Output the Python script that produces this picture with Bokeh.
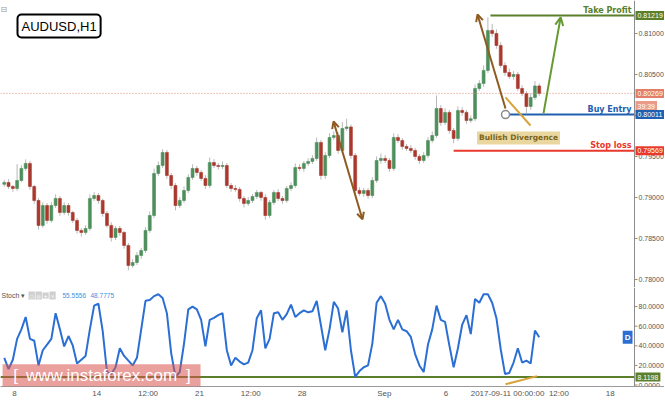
from bokeh.plotting import figure
from bokeh.layouts import column
from bokeh.models import (ColumnDataSource, Range1d, LinearAxis, FixedTicker,
                          Label, Span, Arrow, OpenHead, BoxAnnotation)
from bokeh.core.properties import value
from bokeh.embed import file_html
from bokeh.resources import INLINE

# ---------------- data ----------------
# x = hourly-bar index (weekends skipped), 0 = 2017-08-08 00:00; one candle per 5 hourly bars
candle_t = list(range(-12, 614, 5))
first_open = 0.79160
closes = [
    0.79183, 0.79134, 0.79110, 0.79207, 0.79354, 0.79415, 0.79134, 0.78963, 0.78659, 0.78902,
    0.78720, 0.78902, 0.78988, 0.78817, 0.78902, 0.78817, 0.78720, 0.78598, 0.78573, 0.78622,
    0.78988, 0.79024, 0.78963, 0.78805, 0.78659, 0.78512, 0.78622, 0.78573, 0.78415, 0.78171,
    0.78207, 0.78293, 0.78354, 0.78598, 0.78780, 0.79293, 0.79390, 0.79549, 0.79268, 0.79146,
    0.78902, 0.78963, 0.79085, 0.79244, 0.79354, 0.79305, 0.79232, 0.79146, 0.79427, 0.79390,
    0.79378, 0.79390, 0.79146, 0.79110, 0.79098, 0.78988, 0.78927, 0.78963, 0.79012, 0.79061,
    0.79000, 0.78780, 0.78939, 0.79061, 0.78988, 0.78963, 0.79110, 0.79146, 0.79366, 0.79354,
    0.79415, 0.79439, 0.79476, 0.79671, 0.79268, 0.79512, 0.79732, 0.79756, 0.79573, 0.79841,
    0.79860, 0.79512, 0.79085, 0.79049, 0.79085, 0.79024, 0.79207, 0.79451, 0.79476, 0.79451,
    0.79354, 0.79732, 0.79695, 0.79622, 0.79598, 0.79573, 0.79500, 0.79451, 0.79512, 0.79695,
    0.79756, 0.80085, 0.79915, 0.80037, 0.79817, 0.79720, 0.80061, 0.80037, 0.79939, 0.79960,
    0.80329, 0.80390, 0.80549, 0.81037, 0.81000, 0.80854, 0.80610, 0.80524, 0.80476, 0.80500,
    0.80329, 0.80268, 0.80110, 0.80220, 0.80360, 0.80269,
]
wick_up_pips = [
    3, 4, 2, 20, 4, 5, 3, 2, 3, 4,
    3, 4, 5, 3, 4, 3, 2, 3, 3, 4,
    5, 4, 3, 2, 3, 4, 3, 3, 2, 3,
    4, 4, 3, 4, 5, 6, 5, 4, 3, 3,
    3, 4, 5, 4, 5, 3, 3, 4, 6, 4,
    3, 5, 3, 3, 4, 3, 3, 4, 3, 3,
    2, 4, 3, 3, 4, 3, 3, 4, 5, 4,
    3, 4, 4, 6, 3, 4, 5, 5, 4, 8,
    10, 3, 3, 4, 3, 3, 4, 5, 6, 4,
    3, 5, 4, 3, 3, 4, 3, 3, 4, 4,
    5, 16, 4, 5, 3, 3, 5, 4, 3, 4,
    5, 4, 6, 16, 8, 5, 4, 4, 5, 4,
    3, 4, 3, 5, 6, 3,
]
wick_dn_pips = [
    3, 3, 4, 3, 2, 3, 4, 4, 5, 3,
    4, 3, 3, 4, 3, 4, 3, 4, 5, 3,
    3, 3, 4, 4, 3, 5, 3, 4, 4, 6,
    3, 3, 4, 3, 3, 3, 3, 3, 4, 4,
    6, 3, 3, 3, 3, 4, 3, 4, 3, 3,
    4, 3, 3, 4, 3, 4, 5, 3, 3, 3,
    4, 5, 3, 3, 3, 4, 3, 3, 3, 3,
    4, 3, 3, 3, 5, 4, 3, 3, 4, 3,
    3, 4, 4, 3, 4, 4, 3, 3, 4, 3,
    4, 3, 3, 4, 3, 3, 4, 4, 3, 3,
    3, 3, 4, 3, 4, 6, 3, 4, 4, 3,
    3, 3, 4, 3, 4, 4, 3, 4, 3, 4,
    3, 3, 8, 4, 3, 3,
]
stoch_k = [
    27.8, 16.2, 25.8, 47.1, 56.8, 69.4, 47.1, 45.2, 20.0, 35.5,
    41.3, 47.1, 73.3, 56.8, 39.4, 50.0, 40.4, 22.0, 25.8, 29.7,
    56.8, 81.0, 82.9, 54.9, 13.3, 11.3, 18.1, 37.5, 29.7, 24.9,
    20.0, 27.8, 56.8, 85.9, 86.8, 90.7, 92.6, 88.7, 73.3, 32.6,
    8.4, 13.3, 42.3, 77.2, 80.0, 77.2, 66.5, 39.4, 66.5, 68.5,
    71.3, 73.3, 35.5, 20.0, 27.8, 23.9, 21.0, 22.9, 35.5, 68.2,
    76.2, 37.5, 47.1, 73.3, 74.2, 66.5, 72.3, 82.0, 69.4, 73.3,
    76.2, 74.2, 75.2, 85.9, 60.7, 35.5, 56.8, 84.9, 78.0, 53.9,
    76.2, 35.5, 8.4, 14.2, 18.1, 20.0, 42.3, 83.9, 90.7, 82.9,
    66.5, 56.8, 66.5, 56.8, 54.9, 49.1, 31.6, 20.0, 13.3, 41.3,
    56.8, 81.0, 66.5, 64.5, 40.4, 18.1, 37.5, 61.7, 71.3, 52.0,
    87.8, 83.9, 92.6, 92.6, 83.9, 68.2, 36.5, 11.3, 12.3, 22.9,
    37.5, 22.9, 24.9, 22.0, 55.6, 48.8,
]

time_ticks = [0, 96, 156, 216, 276, 336, 432, 504, 576, 636, 696]
time_labels = ["8", "14", "12:00", "21", "12:00", "28", "Sep", "6",
               "2017-09-11 00:00:00", "12:00", "18"]
price_ticks = [0.780, 0.785, 0.790, 0.795, 0.800, 0.805, 0.810]
stoch_ticks = [0, 20, 40, 60, 80]

take_profit = 0.81219
buy_entry = 0.80011
stop_loss = 0.79569
last_price = 0.80269
stoch_level = 8.1198
stoch_k_last = "55.5556"
stoch_d_last = "48.7775"
countdown = "39:39"
cursor_time = 576
level_starts = [556, 576, 513]

# ---------------- derived candle geometry ----------------
opens = [first_open] + closes[:-1]
tops = [max(o, c) for o, c in zip(opens, closes)]
bots = [min(o, c) for o, c in zip(opens, closes)]
highs = [t + u * 1e-4 for t, u in zip(tops, wick_up_pips)]
lows = [b - d * 1e-4 for b, d in zip(bots, wick_dn_pips)]
UP, DN = "#4e8f5c", "#a9382d"
colors = [UP if c >= o else DN for o, c in zip(opens, closes)]

W = 664
AX_PX = 634                      # pixel column where the price scale starts
T0, T_AX = -16.4, 724.3          # chart area, price scale starts at T_AX
S_PX = (T_AX - T0) / AX_PX       # hours per pixel
T1 = T0 + W * S_PX               # frame also covers the price-scale column
TICK = 3 * S_PX
P0, P1 = 0.77902, 0.81402
S0, S1 = -1.5, 99.5

TP_C, BE_C, SL_C = "#5b7f2a", "#2160b0", "#e8392c"
AX_C, LAB_C = "#8c8c8c", "#555555"
FONT = "Liberation Sans"
BOLD = "DejaVu Sans"

xr = Range1d(T0, T1)


def price_scale(fig, ticks, fmt):
    n = len(ticks)
    fig.add_layout(Span(location=T_AX, dimension="height", line_color=AX_C, line_width=1))
    fig.segment(x0=[T_AX] * n, x1=[T_AX + TICK] * n, y0=ticks, y1=ticks, line_color=AX_C)
    fig.text(x=[T_AX] * n, y=ticks, text=[fmt % v for v in ticks], x_offset=4,
             text_baseline="middle", text_align="left", text_font_size="7px",
             text_color=LAB_C, text_font=value(FONT))


def price_box(fig, y, text, bg, y_offset=0):
    fig.add_layout(Label(x=T_AX, y=y, x_offset=1, y_offset=y_offset, text=text,
                         text_align="left", text_baseline="middle", text_color="white",
                         text_font=FONT, text_font_size="7px", background_fill_color=bg,
                         padding=2))


# ---------------- price panel ----------------
p1 = figure(width=W, height=287, x_range=xr, y_range=Range1d(P0, P1),
            x_axis_location=None, y_axis_location=None,
            output_backend="svg", toolbar_location=None,
            min_border_left=0, min_border_right=0, min_border_top=0, min_border_bottom=0)
p1.outline_line_color = None
p1.grid.visible = False

src = ColumnDataSource(dict(t=candle_t, h=highs, l=lows, top=tops, bot=bots, color=colors))
p1.segment(x0="t", y0="l", x1="t", y1="h", source=src, line_color="#b8b8b8", line_width=1)
p1.vbar(x="t", width=3.4, top="top", bottom="bot", source=src,
        fill_color="color", line_color="color", line_width=0.6)

sep = LinearAxis(ticker=FixedTicker(ticks=[]), axis_line_color="#9a9a9a",
                 major_tick_out=0, major_tick_in=0, minor_tick_out=0, minor_tick_in=0,
                 major_label_text_font_size="0px", major_label_standoff=0,
                 axis_label_standoff=0)
p1.add_layout(sep, "below")

price_scale(p1, price_ticks, "%.5f")

p1.segment(x0=[T0], x1=[T_AX], y0=[last_price], y1=[last_price],
           line_color="#e08a7a", line_dash="1 2", line_width=1)
p1.segment(x0=level_starts, y0=[take_profit, buy_entry, stop_loss],
           x1=[T_AX] * 3, y1=[take_profit, buy_entry, stop_loss],
           line_color=[TP_C, BE_C, SL_C], line_width=2)

# analysis drawings
BROWN, TAN, GREEN = "#8d5b21", "#d7a43b", "#66992f"
p1.add_layout(Arrow(x_start=372.7, y_start=0.79927, x_end=406.5, y_end=0.78732,
                    start=OpenHead(size=7, line_color=BROWN, line_width=2),
                    end=OpenHead(size=7, line_color=BROWN, line_width=2),
                    line_color=BROWN, line_width=2))
p1.add_layout(Arrow(x_start=573.6, y_start=0.80086, x_end=540.9, y_end=0.81232,
                    end=OpenHead(size=7, line_color=BROWN, line_width=2),
                    line_color=BROWN, line_width=2))
p1.add_layout(Arrow(x_start=573.6, y_start=0.80220, x_end=602.8, y_end=0.79878, end=None,
                    line_color=TAN, line_width=2))
p1.add_layout(Arrow(x_start=618, y_start=0.80025, x_end=638, y_end=0.81196,
                    end=OpenHead(size=8, line_color=GREEN, line_width=2),
                    line_color=GREEN, line_width=2))
p1.scatter(x=[cursor_time - 2.4], y=[buy_entry], marker="circle", size=8,
           fill_color="white", line_color="#8a8a8a", line_width=1.5)


def level_text(fig, y, text, color):
    fig.add_layout(Label(x=T_AX, y=y, x_offset=-3, y_offset=1, text=text, text_align="right",
                         text_baseline="bottom", text_color=color, text_font=BOLD,
                         text_font_style="bold", text_font_size="8px"))


level_text(p1, take_profit, "Take Profit", TP_C)
level_text(p1, buy_entry, "Buy Entry", BE_C)
level_text(p1, stop_loss, "Stop loss", SL_C)

p1.add_layout(Label(x=588.8, y=0.79726, text="Bullish Divergence", text_align="center",
                    text_baseline="middle", text_color="#7a6420", text_font=BOLD,
                    text_font_style="bold", text_font_size="7.5px",
                    background_fill_color="#e9d79f", padding=2))

price_box(p1, take_profit, "%.5f" % take_profit, TP_C)
price_box(p1, last_price, "%.5f" % last_price, "#e27d69")
price_box(p1, last_price, countdown, "#e99a88", y_offset=-13)
price_box(p1, buy_entry, "%.5f" % buy_entry, BE_C)
price_box(p1, stop_loss, "%.5f" % stop_loss, SL_C)

p1.add_layout(Label(x=T0, y=P1, x_offset=17, y_offset=-14, text="AUDUSD,H1", text_align="left",
                    text_baseline="top", text_color="black", text_font=FONT, text_font_size="13px",
                    background_fill_color="white", border_line_color="black", border_line_width=2,
                    padding=4, border_radius=4))
p1.add_layout(Label(x=T0, y=P1, x_offset=0, y_offset=-4, text="⊟", text_align="left",
                    text_baseline="top", text_color="#999999", text_font=BOLD, text_font_size="8px"))

# ---------------- stochastic panel ----------------
p2 = figure(width=W, height=113, x_range=xr, y_range=Range1d(S0, S1),
            x_axis_location=None, y_axis_location=None,
            output_backend="svg", toolbar_location=None,
            min_border_left=0, min_border_right=0, min_border_top=0, min_border_bottom=0)
p2.outline_line_color = None
p2.grid.visible = False

p2.segment(x0=[T0], x1=[T_AX], y0=[stoch_level], y1=[stoch_level], line_color=TP_C, line_width=2)
p2.line(candle_t, stoch_k, line_color="#2b6fd4", line_width=2)
p2.add_layout(Arrow(x_start=573.6, y_start=0.8, x_end=610.6, y_end=9.1, end=None,
                    line_color=TAN, line_width=2))

price_scale(p2, stoch_ticks, "%.4f")

xa = LinearAxis(ticker=FixedTicker(ticks=time_ticks),
                major_label_overrides=dict(zip(time_ticks, time_labels)),
                axis_line_color="#9a9a9a", major_tick_out=0, major_tick_in=0,
                minor_tick_out=0, minor_tick_in=0,
                major_label_text_font_size="8px", major_label_text_color=LAB_C,
                major_label_text_font=FONT, major_label_standoff=2, axis_label_standoff=0)
p2.add_layout(xa, "below")

price_box(p2, stoch_level, "%.4f" % stoch_level, TP_C)
p2.add_layout(Label(x=T_AX, y=float(stoch_d_last), x_offset=-2, text="D", text_align="right",
                    text_baseline="middle", text_color="white", text_font=FONT,
                    text_font_style="bold", text_font_size="8px",
                    background_fill_color="#2b6fd4", padding=2))

# header
p2.add_layout(Label(x=T0, y=S1, x_offset=1, y_offset=-8, text="Stoch ▾", text_baseline="middle",
                    text_color=LAB_C, text_font=FONT, text_font_size="7px"))
for k, sym in enumerate(["○", "◎", "+", "×"]):
    p2.add_layout(Label(x=T0, y=S1, x_offset=28 + 7 * k, y_offset=-8, text=sym,
                        text_baseline="middle", text_color="white", text_font=BOLD,
                        text_font_size="5px", background_fill_color="#cfcfcf", padding=1))
p2.add_layout(Label(x=T0, y=S1, x_offset=62, y_offset=-8, text=stoch_k_last, text_baseline="middle",
                    text_color="#3d8fe0", text_font=FONT, text_font_size="6.5px"))
p2.add_layout(Label(x=T0, y=S1, x_offset=90, y_offset=-8, text=stoch_d_last, text_baseline="middle",
                    text_color="#3d8fe0", text_font=FONT, text_font_size="6.5px"))

# watermark
p2.add_layout(BoxAnnotation(left=-14, right=217.3, bottom=S0, top=21.3,
                            fill_color="#d9534f", fill_alpha=0.55, line_color=None))
p2.add_layout(Label(x=101.6, y=9.9, text="www.instaforex.com", text_align="center",
                    text_baseline="middle", text_color="white", text_font=FONT,
                    text_font_size="17px"))
p2.add_layout(Label(x=1.2, y=9.9, text="[", text_align="center", text_baseline="middle",
                    text_color="white", text_font=FONT, text_font_size="17px"))
p2.add_layout(Label(x=203, y=9.9, text="]", text_align="center", text_baseline="middle",
                    text_color="white", text_font=FONT, text_font_size="17px"))

layout = column(p1, p2)
open("out.html", "w").write(file_html(layout, INLINE))
